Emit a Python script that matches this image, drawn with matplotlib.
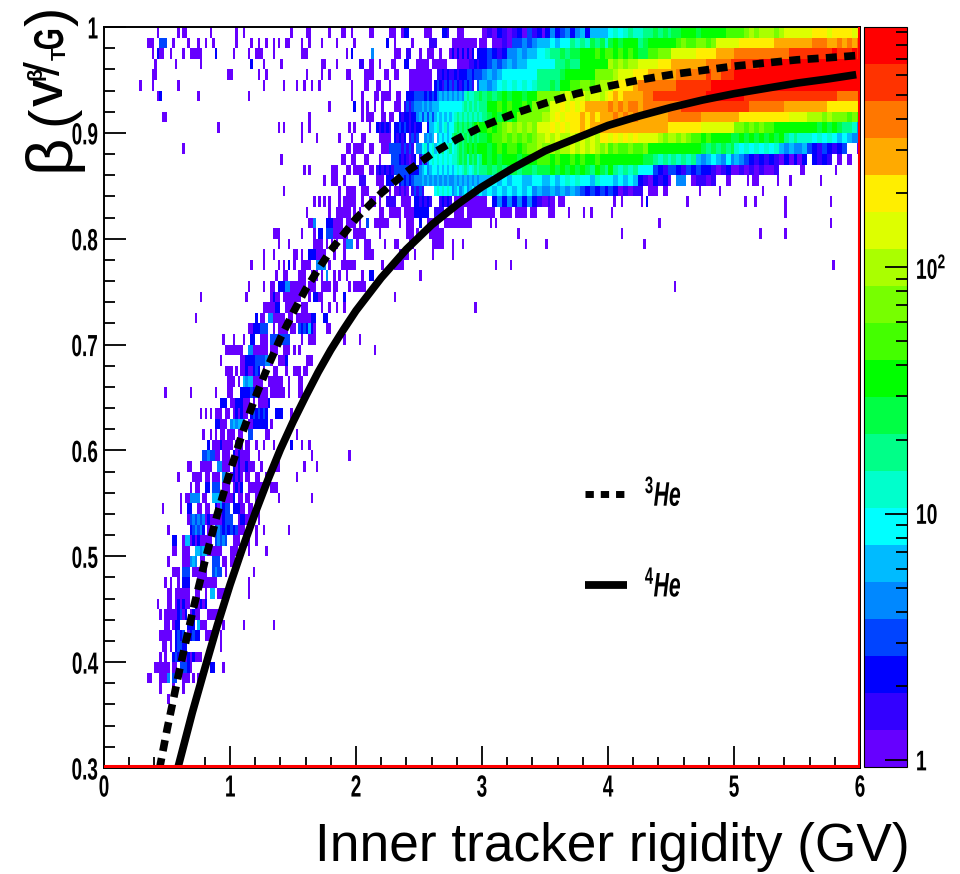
"""
Beta versus inner tracker rigidity for helium, with the 3He and 4He curves
"""

import numpy as np
import matplotlib
matplotlib.use("Agg")
import matplotlib.pyplot as plt
from matplotlib.colors import ListedColormap, LogNorm
from matplotlib.lines import Line2D
from matplotlib.patheffects import AbstractPathEffect
from matplotlib.ticker import FixedLocator, MultipleLocator, NullFormatter
from matplotlib.transforms import Affine2D

plt.rcParams["font.family"] = "Liberation Sans"
plt.rcParams["font.weight"] = "bold"
plt.rcParams["mathtext.fontset"] = "custom"
plt.rcParams["mathtext.rm"] = "Liberation Sans:bold"
plt.rcParams["mathtext.bf"] = "Liberation Sans:bold"
plt.rcParams["mathtext.it"] = "Liberation Sans:italic:bold"

# Bands of the colour scale, bottom to top, with a typical count in each
BAND_COLORS = ["#6600ff", "#3300ff", "#0000ff", "#0044ff", "#0088ff", "#00bbff", "#00ffff",
               "#00ffcc", "#00ff88", "#00ff44", "#00ff00", "#44ff00", "#77ff00", "#aaff00",
               "#ddff00", "#ffee00", "#ffaa00", "#ff7700", "#ff3300", "#ff0000"]
BAND_COUNTS = [1.12, 1.58, 2.2, 3.2, 4.5, 6.3, 8.9, 12.6, 17.8, 25,
               35, 50, 71, 100, 141, 200, 282, 399, 564, 796]
COUNT_MIN, COUNT_MAX = 0.94, 943

R_BIN_WIDTH = 0.02
BETA_BIN_WIDTH = 0.01

# Histogram, one string per beta bin from 1.00 downwards. Each group is 0.5 GV
# wide. A character is a band (0-9, a-j), '.' is an empty bin. A group that
# starts with '=' has one character for two bins.
HIST_ROWS = [
    ".....................0 ....0.00.........0 ..0..0..................0 .....00.......0....00..0 .....00......000..022 ..000....221...000 =0102101203120 =2423424525555 =6767877889898 =99aaa9aaaaabb =bbcdcdddcdeee =eeefffeffffef",
    ".................000..333 ..0.....0...0..0..0 ..0.....0..0..0..0.0..00 ...0..0....0.....0......0 ............2..0......0 ....111......0000000000.0 =0.00103343455 =5656687879897 =9a9aaa89aaaaa =abcbbccbceeee =efffffffggggg =ggghhhgghghgh",
    "...................0.200 .0....0..00000.....2 .0.....0..000....0 ...000...............0.2 ......4........000..11 0..000..0...0202020202.22 =2321244545566 =7889899aaabab =bababa99bbccc =eeeeeffffgggg =hhhhhhhhhhhii =iiiiiiijiiiji",
    "....................0 ...0.........0 ........2....0......0 ...........00....0 .11..00..0....00...22...0 0000.000000....0000011212 =2343454556666 =6688988aaaaaa =dcdcddeeeefff =ggggggghhhhhi =iiiiijjjjjjjj =jjjjjjjjjjjjj",
    "...................00 ........................0 0..........0..0 .....0.....0..0......00 ...0000....00..00....0000 00000..112121121222332333 =4545666666688 =8889aaaaaaccc =cdeeefffggggg =ghhhhhhihhiii =jjjjjjjjjjjjj =jjjjjjjjjjjjj",
    "..............0....0 ....0 .............0.......0 .0..0..0..0............0 ...00...00...0.......0000 00000.2321323132123231.35 =5456767676788 =898aabbccbcdd =dffffghhhhhhh =hiiiiiiijjjjj =jjjjjjjjjjjjj =jjjjjjjjjjjjj",
    ".....................02 ............0 .......0 .......................0 ..0....00.0000..00..22233 3323232454545454547877889 =8989a9aa9aacc =cccdedeedeede =fgfgggghhiiii =iiiiiiijjjjjj =jjiiiiiiiiiii =iiiiiiiihhhhh",
    ". . . ..............0.........2 ..0.0..0..0....000.131344 4545455566666666678787878 =8aababaabaccc =ceefefefggggg =hghghhghhhhhh =hhiiiiiiiiiii =iiihhhhhhhggg =ggggggfffffff",
    ".......................00 . . ......0 ..0.000...00.00..21221224 5353535656565678787878787 =89a9a9acccccd =defefffgfgfgg =ghghghggggggh =hhhhhhggggggg =gffffffffffee =eedddcdcccbcb",
    ". ....................0 ...................0.0 ...0..0...............0.0 .....0..212121.2232321212 2..2556756756689898989abab =ababcdcdcdcee =efefeffgfgggg =ggggggggggggf =ffffffeeeeeee =ccbcbcbbaaaaa =aaaa9a9a98874",
    ". . . ...0.....0........0....0 ..00.....00000.21212.1313 ..4545.565656898989898989 =9abbcbcbcbcdd =ededdedededff =efefefeeeedcd =dcdcbbabaaaa9 =9a9a9a9a9a878 =7776767656544",
    ". ......0 . .....................00.0 000..00...0003333313131.44 4674675678678678989a9a9aa =a9ababbabccdc =cdcddedededcd =bcbbcbbcaaaaa =aaaaaa9898989 =7676767675454 =4532132123..0",
    ". . ....................0 ...................00..00 ...00....0....3332121012. 1414676767676778989798978 =a9a9aaa9aaabb =babaababaabaa =aaaaaaa998787 =8787854565464 =5432121210202 =02.2121.0.0..",
    ". . . ....0.0........000...00.0 000..00.12121213333332222 4564566565656567678767878 =8989899899899 =9a9a9a9a98a98 =a878786663213 =3213232210120 =010101001.... .00............0",
    ". . . ............0..000..0 .111....000.222..23232344 4545454545454454545454545 =5565656655665 =5656767665766 =6565652102120 =.44.01101..0. .....0.000.......0....0 .........0",
    ". . .....................0 ..................0..0000 ..000....00..0.001010.131 31....6767676456456456456 =5656565656454 =4545454323232 =3201011.00.0. ...........0.......0 ...........0 .",
    ". . . ........0.0.0.0...0.00000 ..0..000.0..1111..0000.22 12121...12121.00000000000 =0.24242424210 0100.000 ..0..0.......0.2 ......0 ....0...0...........0 .............0",
    ". . . .....0........0..000000.0 .0.......00..00000.000022 2222..1111....0000.000000 00000..00000.00000.000 .000.....0.....0..0 .0 . ....................0 .",
    ". . . ......004....2220000.00000 .0..3..000000....0..000 2..00000..00000000000 ...0.0 . ....................0 . . .............0",
    ". . .................000 ...0....0.22.333000000..0 0000.....0..........000.0 ....000000 ..............0 . .....0 . ..........0.........0 .",
    ". . ...................0...0 ........0000.0.0.0..0444. 0..000.....0...00....00 .....00000...0...0 .................0 0 ..............0",
    ". . .............0...0 00.0..2220000...0...0 ...0000..........0000..0 .....0.......0",
    ". . ........0....0.....0.0.2 0..0000..4444.0....000000 ..........0....0000 . .....0.....0 . . . . ..............0",
    ". . ..................0..00 ..000..000.0.4..0.0..0 ..0..22 0",
    ". . .......0.....0..00.222440 00000.000..0000.00....0.0 0000 . . . . .0",
    ". .............0 ......0.........0200.0000 000...0.2200....0...2 ...............0",
    ". . .............0000022..000 0..000.....0..0..0..0 . ......................0",
    ". ...........0 ..........2.00.4400000.00 .00000022...22",
    ". . .......00222333..0.0000.0 0.3232520....00",
    ". ......................0 .0...0..22..000.33333333 ...0..000...........0 .0",
    ". .......................00 00000..44000000.000..000 0.0 .......0",
    ". .....................0 ....0022223333440..0002 .....000",
    ". .......................00 0.0.00200232.0...00...0 000.00",
    ". ........................0 00.0.54550000..000000..0 ..00",
    "........................0 .........0.........0....0 0...22223232000.000000.0 ..00",
    ". .....................222 00222000.0.00002",
    ". .............0.0.0.000.00 .020200.2323232...222...0",
    ". ...................22000 454554.00222222.0",
    ". ..............0..0.0.00.0 00.00..33.....00 .0",
    ". ................2.0002000 0.000.00..0..0...0......2 ...0..0",
    ". ..............3343300.000 .2020000...0 .......0..............0",
    ". ........00...00000..44000 .202002000..0....000 ....0....0",
    ". ....0.....0000.00.000.44 02020.00..00..0 .0",
    ". .........0.00..22.333.000 .0202..0000000..000",
    ". .....0.004444.00..5555000 02.00.00..00.......0 .......0",
    ".......................0 .....0..22..00.00..204233 .22200.00..0",
    ". ........03434340200000233 3..022000..0",
    ". 0........234342.00.3432323 323000....0..0.........0",
    ". ..22..055020200000.34343 .000..00..0",
    ". ..00..000..55455000000 000....0......0",
    ". 0.....000454.00...333.00 00",
    ". ..000.333.000000..3433.0 .........0",
    "........................0 .0..0.222...00000000 .......0",
    ". 00.000000..00..0.55.0000 .......0",
    ".....................0 00.020200..20202",
    "......................0.0 00002302.0200...000000",
    "........................0 0.022...222.5000......0 .....0...........0",
    "......................000 00.2323.02322..000...0",
    ".......................00 .0.23322.............0",
    "......................0.0 ..232020202000",
    "....................00000 0.00.33320.......22...0",
    ".................00...000 4.33..000.0.0",
    "......................0 ..0...0",
    ". 0",
    "", "", "", "", "", "",
]

# Curves
HE3_RIGIDITY = [0.44, 0.5, 0.6, 0.7, 0.8, 0.9, 1.0, 1.1, 1.2, 1.3, 1.4, 1.5, 1.6, 1.7, 1.8, 1.9, 2.0, 2.2, 2.4, 2.6, 2.8, 3.0,
                3.25, 3.5, 3.75, 4.0, 4.25, 4.5, 4.75, 5.0, 5.25, 5.5, 5.75, 5.97]
HE3_BETA = [0.299, 0.336, 0.393, 0.446, 0.495, 0.54, 0.58, 0.617, 0.65, 0.679, 0.706, 0.73, 0.752, 0.771, 0.789, 0.804, 0.819, 0.843, 0.863, 0.88, 0.894, 0.906,
            0.918, 0.928, 0.937, 0.944, 0.95, 0.955, 0.959, 0.963, 0.966, 0.969, 0.971, 0.973]
HE4_RIGIDITY = [0.586, 0.7, 0.8, 0.9, 1.0, 1.1, 1.2, 1.3, 1.4, 1.5, 1.6, 1.7, 1.8, 1.9, 2.0, 2.2, 2.4, 2.6, 2.8, 3.0,
                3.25, 3.5, 3.75, 4.0, 4.25, 4.5, 4.75, 5.0, 5.25, 5.5, 5.75, 5.97]
HE4_BETA = [0.3, 0.352, 0.394, 0.435, 0.473, 0.508, 0.541, 0.572, 0.601, 0.627, 0.651, 0.674, 0.695, 0.714, 0.732, 0.763, 0.79, 0.813, 0.832, 0.849,
            0.867, 0.883, 0.895, 0.907, 0.916, 0.924, 0.931, 0.937, 0.942, 0.947, 0.951, 0.955]

X_TICKS = [0, 1, 2, 3, 4, 5, 6]
Y_TICKS = [0.3, 0.4, 0.5, 0.6, 0.7, 0.8, 0.9, 1.0]
Y_TICK_LABELS = ["0.3", "0.4", "0.5", "0.6", "0.7", "0.8", "0.9", "1"]
SCALE_TICKS = [1, 10, 100]
SCALE_TICK_LABELS = ["1", "10", r"10$^{2}$"]
SCALE_MINOR_TICKS = [2, 3, 4, 5, 6, 7, 8, 9, 20, 30, 40, 50, 60, 70, 80, 90, 200, 300, 400, 500, 600, 700, 800, 900]


class Condense(AbstractPathEffect):
    """Narrows the glyphs of a text, no condensed bold font is installed"""

    def __init__(self, factor, anchor="center"):
        super().__init__()
        self.factor = factor
        self.anchor = anchor

    def draw_path(self, renderer, gc, tpath, affine, rgbFace=None):
        box = tpath.get_extents()
        x0 = {"left": box.x0, "center": (box.x0 + box.x1) / 2, "right": box.x1}[self.anchor]
        squeeze = Affine2D().translate(-x0, 0).scale(self.factor, 1).translate(x0, 0)
        renderer.draw_path(gc, tpath, squeeze + affine, rgbFace)


def parse_rows(rows, nb_bins=300):
    """Turns the text rows into a 2D array of counts, nan for an empty bin"""
    hist = np.full((len(rows), nb_bins), np.nan)
    for i, row in enumerate(rows):
        chars = ""
        for group in row.split():
            if group.startswith("="):
                body = group[1:].ljust(13, group[-1])
                group = "".join(c * 2 for c in body)[:25]
            chars += group.ljust(25, ".")[:25]
        for j, c in enumerate(chars):
            if c != ".":
                hist[i, j] = BAND_COUNTS[int(c, 20)]
    return hist


def px(x, y):
    """Pixel position in the picture to figure fraction"""
    return x / 960, 1 - y / 874


fig = plt.figure(figsize=(9.6, 8.74), dpi=100)
ax = fig.add_axes([104 / 960, (874 - 768) / 874, 756 / 960, 741 / 874])

hist = parse_rows(HIST_ROWS)
r_edges = np.arange(hist.shape[1] + 1) * R_BIN_WIDTH
beta_edges = 1 - np.arange(hist.shape[0] + 1) * BETA_BIN_WIDTH
cmap = ListedColormap(BAND_COLORS)
norm = LogNorm(vmin=COUNT_MIN, vmax=COUNT_MAX)
mesh = ax.pcolormesh(r_edges, beta_edges, np.ma.masked_invalid(hist), cmap=cmap, norm=norm,
                     shading="flat", antialiased=False)

dashes = (0, (1.45, 0.95))
ax.plot(HE3_RIGIDITY, HE3_BETA, color="black", lw=5.5, ls=dashes, dash_capstyle="butt")
ax.plot(HE4_RIGIDITY, HE4_BETA, color="black", lw=5.5, solid_capstyle="butt")

# frame of the histogram, in red just inside the axes
ax.axhline(0.302, color="#ff0000", lw=2.2, zorder=4)
ax.axvline(5.99, color="#ff0000", lw=2.2, zorder=4)

ax.set_xlim(0, 6)
ax.set_ylim(0.3, 1)
ax.set_xticks(X_TICKS)
ax.set_yticks(Y_TICKS)
ax.set_yticklabels(Y_TICK_LABELS)
ax.xaxis.set_minor_locator(MultipleLocator(0.2))
ax.yaxis.set_minor_locator(MultipleLocator(0.02))
ax.tick_params(which="major", direction="in", length=16, width=1.3, labelsize=22, pad=4)
ax.tick_params(which="minor", direction="in", length=8, width=1.3)
ax.tick_params(axis="x", pad=4)
for side in ax.spines:
    ax.spines[side].set_linewidth(1.4)
for label in ax.get_xticklabels():
    label.set_path_effects([Condense(0.62, "center")])
for label in ax.get_yticklabels():
    label.set_path_effects([Condense(0.62, "right")])

# colour scale
cax = fig.add_axes([864 / 960, (874 - 767) / 874, 43 / 960, 740 / 874])
cbar = fig.colorbar(mesh, cax=cax)
cbar.outline.set_linewidth(0.8)
cax.yaxis.set_major_locator(FixedLocator(SCALE_TICKS))
cax.yaxis.set_minor_locator(FixedLocator(SCALE_MINOR_TICKS))
cax.yaxis.set_minor_formatter(NullFormatter())
cax.set_yticklabels(SCALE_TICK_LABELS)
cax.tick_params(which="major", direction="in", length=16, width=1.3, labelsize=20.5, pad=6, right=True)
cax.tick_params(which="minor", direction="in", length=8, width=1.3, right=True)
for label in cax.get_yticklabels():
    label.set_path_effects([Condense(0.68, "left")])

# legend
handles = [
    Line2D([], [], color="black", lw=5, ls=(0, (1.2, 1.0)), dash_capstyle="butt"),
    Line2D([], [], color="black", lw=5.6, solid_capstyle="butt"),
]
labels = [r"$^{3}\mathit{He}$", r"$^{4}\mathit{He}$"]
legend = ax.legend(handles, labels, loc="upper left", bbox_to_anchor=(0.614, 0.414), frameon=False,
                   fontsize=24.5, handlelength=1.24, handletextpad=0.5, labelspacing=1.66, borderpad=0)
for label in legend.get_texts():
    label.set_path_effects([Condense(0.62, "left")])

# axis titles
fig.text(*px(910, 847), "Inner tracker rigidity (GV)", family="Liberation Sans", weight="normal",
         fontsize=38.3, ha="right", va="center")
fig.text(*px(52, 152), "β", family="Liberation Sans", weight="normal", fontsize=47,
         rotation=90, ha="center", va="center")
fig.text(*px(52, 115), "(", family="Liberation Sans", weight="normal", fontsize=42,
         rotation=90, ha="center", va="center")
fig.text(*px(52, 16), ")", family="Liberation Sans", weight="normal", fontsize=42,
         rotation=90, ha="center", va="center")
fig.text(*px(52, 92), "V", fontsize=30, rotation=90, ha="center", va="center")
fig.text(*px(47, 68), "/", family="Liberation Sans", weight="normal", fontsize=36,
         rotation=90, ha="center", va="center")
fig.text(*px(36, 74), "β", family="Liberation Sans", fontsize=15, rotation=90, ha="center", va="center")
fig.text(*px(52, 39), "G", fontsize=30, rotation=90, ha="center", va="center",
         path_effects=[Condense(0.68, "center")])
fig.text(*px(60, 54), "T", fontsize=15, rotation=90, ha="center", va="center")

plt.savefig("out.png", dpi=100)
